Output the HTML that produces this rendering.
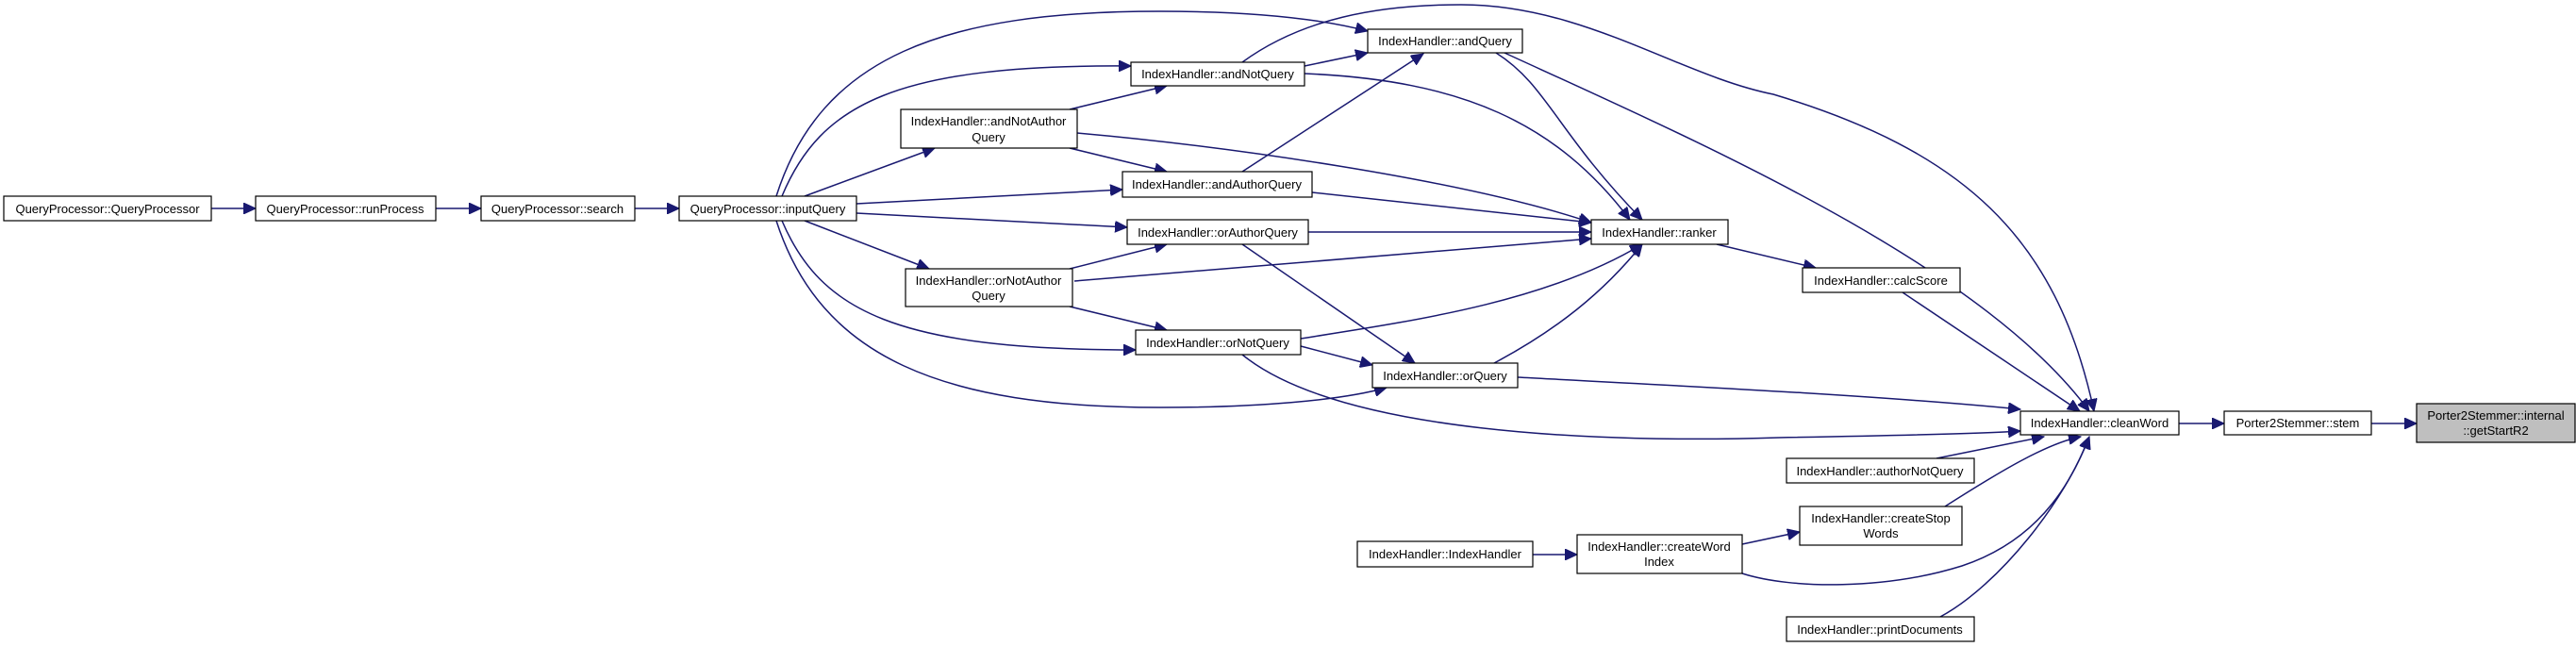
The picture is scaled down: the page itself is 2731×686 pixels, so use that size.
<!DOCTYPE html>
<html><head><meta charset="utf-8"><style>
html,body{margin:0;padding:0;background:#fff;}
svg{display:block;}
text{font-family:"Liberation Sans",sans-serif;font-size:13px;fill:#000;}
</style></head><body>
<svg width="2731" height="686" viewBox="0 0 2731 686" xmlns="http://www.w3.org/2000/svg">
<defs>
<marker id="a" markerUnits="userSpaceOnUse" markerWidth="14" markerHeight="12" refX="13" refY="6" orient="auto">
<path d="M0,0 L13,6 L0,12 z" fill="#191970" stroke="#191970"/>
</marker>
</defs>
<g fill="none" stroke="#191970" stroke-width="1.5" marker-end="url(#a)">
<path d="M224,221 L271,221"/>
<path d="M462,221 L510,221"/>
<path d="M673,221 L720,221"/>
<path d="M829,208 C870,110 950,68 1199,70"/>
<path d="M823,208 C870,60 1000,12 1230,12 C1330,12 1400,20 1450,33"/>
<path d="M853,208 L991,157"/>
<path d="M908,216 L1190,201"/>
<path d="M908,226 L1195,241"/>
<path d="M853,234 L985,285"/>
<path d="M829,234 C870,330 950,371 1204,371"/>
<path d="M823,234 C870,380 1000,432 1230,432 C1330,432 1420,425 1470,411"/>
<path d="M1134,116 L1237,91"/>
<path d="M1134,157 L1237,182"/>
<path d="M1142,141 C1300,155 1550,190 1687,236"/>
<path d="M1134,285 L1237,259"/>
<path d="M1134,325 L1237,350"/>
<path d="M1139,298 L1687,253"/>
<path d="M1383,70 L1450,56"/>
<path d="M1383,78 C1550,85 1650,130 1728,233"/>
<path d="M1317,182 L1509,57"/>
<path d="M1391,204 L1687,236"/>
<path d="M1387,246 L1687,246"/>
<path d="M1317,259 L1500,385"/>
<path d="M1379,359 C1500,340 1640,320 1741,259"/>
<path d="M1379,367 L1455,387"/>
<path d="M1317,376 C1420,460 1700,470 1886,464 C2000,462 2100,460 2142,457"/>
<path d="M1586,56 C1640,90 1650,140 1741,233"/>
<path d="M1595,56 C1800,150 2100,280 2215,436"/>
<path d="M1317,66 C1380,20 1460,5 1549,5 C1680,5 1780,80 1880,100 C2080,160 2180,250 2220,436"/>
<path d="M1820,259 L1925,284"/>
<path d="M2017,310 L2205,436"/>
<path d="M1584,385 C1650,350 1700,310 1741,259"/>
<path d="M1609,400 C1800,410 2000,420 2142,434"/>
<path d="M2310,449 L2358,449"/>
<path d="M2514,449 L2562,449"/>
<path d="M2053,486 L2167,463"/>
<path d="M2062,537 C2120,500 2170,470 2206,463"/>
<path d="M1625,588 L1672,588"/>
<path d="M1847,577 L1908,564"/>
<path d="M1847,608 C1900,625 2000,625 2080,600 C2170,570 2200,500 2215,463"/>
<path d="M2057,654 C2120,620 2190,530 2215,463"/>
</g>
<g stroke="#000" stroke-width="1.2" fill="#fff">
<rect x="4" y="208" width="220" height="26"/>
<rect x="271" y="208" width="191" height="26"/>
<rect x="510" y="208" width="163" height="26"/>
<rect x="720" y="208" width="188" height="26"/>
<rect x="1199" y="66" width="184" height="25"/>
<rect x="955" y="116" width="187" height="41"/>
<rect x="1190" y="182" width="201" height="27"/>
<rect x="1195" y="233" width="192" height="26"/>
<rect x="960" y="285" width="177" height="40"/>
<rect x="1204" y="350" width="175" height="26"/>
<rect x="1450" y="31" width="164" height="25"/>
<rect x="1687" y="233" width="145" height="26"/>
<rect x="1911" y="284" width="167" height="26"/>
<rect x="1455" y="385" width="154" height="26"/>
<rect x="2142" y="436" width="168" height="25"/>
<rect x="2358" y="436" width="156" height="25"/>
<rect x="2562" y="428" width="168" height="41" fill="#bfbfbf"/>
<rect x="1894" y="486" width="199" height="26"/>
<rect x="1908" y="537" width="172" height="41"/>
<rect x="1439" y="574" width="186" height="27"/>
<rect x="1672" y="567" width="175" height="41"/>
<rect x="1894" y="654" width="199" height="26"/>
</g>
<g text-anchor="middle">
<text x="114" y="226">QueryProcessor::QueryProcessor</text>
<text x="366" y="226">QueryProcessor::runProcess</text>
<text x="591" y="226">QueryProcessor::search</text>
<text x="814" y="226">QueryProcessor::inputQuery</text>
<text x="1291" y="83">IndexHandler::andNotQuery</text>
<text x="1048" y="133">IndexHandler::andNotAuthor</text>
<text x="1048" y="150">Query</text>
<text x="1290" y="200">IndexHandler::andAuthorQuery</text>
<text x="1291" y="251">IndexHandler::orAuthorQuery</text>
<text x="1048" y="302">IndexHandler::orNotAuthor</text>
<text x="1048" y="318">Query</text>
<text x="1291" y="368">IndexHandler::orNotQuery</text>
<text x="1532" y="48">IndexHandler::andQuery</text>
<text x="1759" y="251">IndexHandler::ranker</text>
<text x="1994" y="302">IndexHandler::calcScore</text>
<text x="1532" y="403">IndexHandler::orQuery</text>
<text x="2226" y="453">IndexHandler::cleanWord</text>
<text x="2436" y="453">Porter2Stemmer::stem</text>
<text x="2646" y="445">Porter2Stemmer::internal</text>
<text x="2646" y="461">::getStartR2</text>
<text x="1993" y="504">IndexHandler::authorNotQuery</text>
<text x="1994" y="554">IndexHandler::createStop</text>
<text x="1994" y="570">Words</text>
<text x="1532" y="592">IndexHandler::IndexHandler</text>
<text x="1759" y="584">IndexHandler::createWord</text>
<text x="1759" y="600">Index</text>
<text x="1993" y="672">IndexHandler::printDocuments</text>
</g>
</svg>
</body></html>
